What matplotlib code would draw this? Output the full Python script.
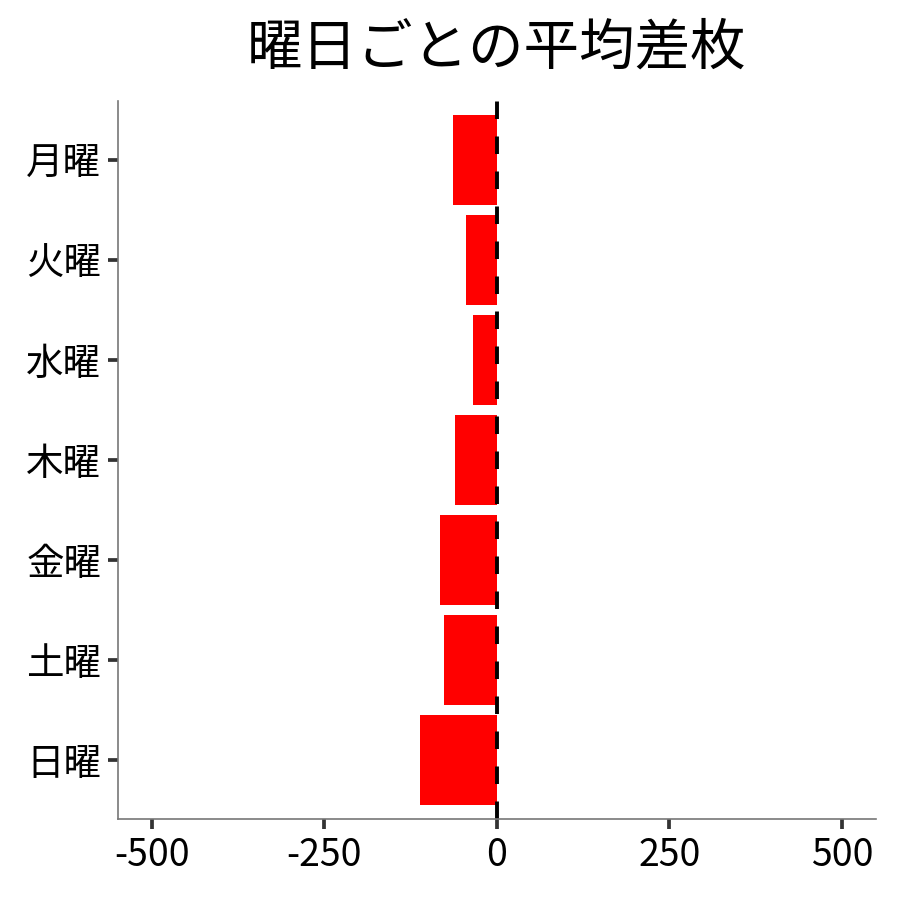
import matplotlib
matplotlib.use("Agg")
import matplotlib.pyplot as plt

plt.rcParams['font.family'] = ['Noto Sans CJK JP', 'DejaVu Sans']

# 曜日ごとの平均差枚 (上から月曜)
days = ["月曜", "火曜", "水曜", "木曜", "金曜", "土曜", "日曜"]
avg_diff = [-64, -44, -34, -60, -82, -76, -112]
xticks = [-500, -250, 0, 250, 500]

fig = plt.figure(figsize=(9, 9), dpi=100)
ax = fig.add_axes([0.131, 0.09, 0.842, 0.798])

ypos = list(range(len(days)))[::-1]
ax.barh(ypos, avg_diff, height=0.9, color="#ff0000")
ax.axvline(0, color="black", linestyle=(0, (4.5, 4.5)), linewidth=2.8)

ax.set_xlim(-549, 549)
ax.set_ylim(-0.59, 6.59)
ax.set_yticks(ypos)
ax.set_yticklabels(days)
ax.set_xticks(xticks)
ax.set_xticklabels([str(v) for v in xticks])

for s in ["top", "right"]:
    ax.spines[s].set_visible(False)
for s in ["left", "bottom"]:
    ax.spines[s].set_color("#777777")
    ax.spines[s].set_linewidth(1.2)
ax.tick_params(axis="both", length=7, width=2.7, color="#333333",
               labelsize=27, labelcolor="black", pad=5)

ax.set_title("曜日ごとの平均差枚", fontsize=40, pad=26)

fig.savefig("out.png", dpi=100)
